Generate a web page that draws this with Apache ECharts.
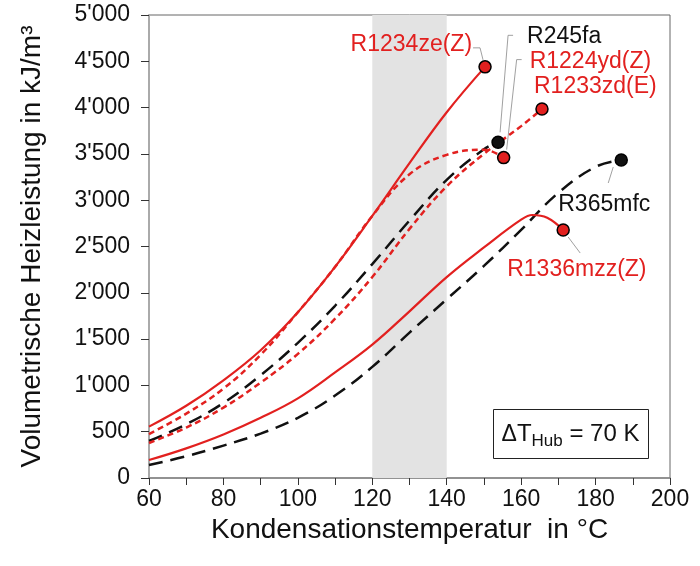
<!DOCTYPE html>
<html>
<head>
<meta charset="utf-8">
<script src="https://cdn.jsdelivr.net/npm/echarts@6/dist/echarts.min.js"></script>
<style>
  html, body { margin: 0; padding: 0; background: #fff; }
  #chart { width: 700px; height: 566px; }
</style>
</head>
<body>
<div id="chart"></div>
<script>
// values: [temperature °C, kJ/m3]
var r1234zeZ = [[60, 555], [70, 780], [80, 1055], [90, 1380], [100, 1790], [110, 2280], [120, 2830], [130, 3400], [140, 3950], [150.3, 4440]];
var r245fa = [[60, 400], [70, 580], [80, 810], [90, 1110], [100, 1460], [110, 1860], [120, 2310], [130, 2780], [140, 3220], [150, 3550], [153.8, 3625]];
var r1224ydZ = [[60, 475], [70, 695], [80, 965], [90, 1330], [100, 1790], [110, 2280], [120, 2830], [130, 3280], [140, 3490], [150, 3545], [155.3, 3460]];
var r1233zdE = [[60, 378], [70, 545], [80, 760], [90, 1030], [100, 1340], [110, 1720], [120, 2170], [130, 2690], [140, 3150], [150, 3500], [160, 3800], [165.6, 3985]];
var r365mfc = [[60, 140], [70, 235], [80, 350], [90, 480], [100, 650], [110, 890], [120, 1200], [130, 1570], [140, 1930], [150, 2290], [160, 2680], [170, 3080], [180, 3360], [186.9, 3434]];
var r1336mzzZ = [[60, 194], [70, 320], [80, 470], [90, 650], [100, 860], [110, 1140], [120, 1440], [130, 1800], [140, 2170], [150, 2490], [160, 2790], [163, 2840], [167, 2810], [171.3, 2678]];

var names = ['R1234ze(Z)', 'R245fa', 'R1224yd(Z)', 'R1233zd(E)', 'R365mfc', 'R1336mzz(Z)'];
var band = [120, 140];
var xTicks = [60, 200, 10];
var yTicks = [0, 5000, 500];
var boxText = ['Δ', 'T', 'Hub', ' = 70 K'];

var RED = '#e2201f';
var BLACK = '#111';
var FONT = '"Liberation Sans", Arial, sans-serif';

// style per curve
var styles = [
  { data: r1234zeZ, color: RED, type: 'solid', width: 2.2 },
  { data: r245fa, color: BLACK, type: [14, 8], width: 2.5 },
  { data: r1224ydZ, color: RED, type: [6, 4], width: 2.5 },
  { data: r1233zdE, color: RED, type: [6, 4], width: 2.5 },
  { data: r365mfc, color: BLACK, type: [14, 8], width: 2.5 },
  { data: r1336mzzZ, color: RED, type: 'solid', width: 2.2 }
];

// label placement (px from the end dot) and leader polyline (px from the end dot)
var labelPos = [
  { off: [-13, -22], align: 'right', lead: [[-12, -19], [-5, -19], [-2, -7]] },
  { off: [29, -106], align: 'left', lead: [[15, -107], [10, -107], [2, -10]] },
  { off: [26, -96], align: 'left', lead: [[18, -98], [13, -98], [3, -8]] },
  { off: [-8, -22], align: 'left', lead: null },
  { off: [-63, 45], align: 'left', lead: [[-8, 7], [-13, 23]] },
  { off: [-56, 40], align: 'left', lead: [[5, 7], [17, 23]] }
];

function fmtY(v) {
  if (v < 1000) return String(v);
  var r = String(v % 1000);
  while (r.length < 3) r = '0' + r;
  return Math.floor(v / 1000) + "'" + r;
}

var series = [];
styles.forEach(function (s, i) {
  var line = {
    name: names[i],
    type: 'line',
    data: s.data,
    smooth: 0.4,
    symbol: 'none',
    z: 3,
    lineStyle: { color: s.color, width: s.width, type: s.type, opacity: 1 },
    silent: true
  };
  if (i === 0) {
    line.markArea = {
      silent: true,
      itemStyle: { color: '#e3e3e3', opacity: 1 },
      data: [[{ xAxis: band[0] }, { xAxis: band[1] }]]
    };
  }
  series.push(line);
});
styles.forEach(function (s, i) {
  var lp = labelPos[i];
  series.push({
    type: 'scatter',
    data: [s.data[s.data.length - 1]],
    symbol: 'circle',
    symbolSize: 12,
    z: 5,
    silent: true,
    itemStyle: { color: s.color, borderColor: '#000', borderWidth: 1.5, opacity: 1 },
    label: {
      show: true,
      formatter: names[i],
      position: 'inside',
      offset: lp.off,
      align: lp.align,
      verticalAlign: 'middle',
      color: s.color,
      opacity: 1,
      fontFamily: FONT,
      fontSize: 23
    }
  });
});

var chart = echarts.init(document.getElementById('chart'), null, { renderer: 'canvas' });

var option = {
  animation: false,
  backgroundColor: '#fff',
  grid: {
    left: 149, right: 30, top: 15, bottom: 88,
    show: true, borderColor: '#666', borderWidth: 1, backgroundColor: 'transparent'
  },
  xAxis: {
    type: 'value',
    min: xTicks[0], max: xTicks[1], interval: xTicks[2],
    name: 'Kondensationstemperatur  in °C',
    nameLocation: 'middle',
    nameGap: 30,
    nameTextStyle: { fontFamily: FONT, fontSize: 28, color: '#111', verticalAlign: 'top' },
    axisLine: { show: true, lineStyle: { color: '#888', width: 1.5 } },
    axisTick: { show: true, inside: false, length: 7, lineStyle: { color: '#333' } },
    splitLine: { show: false },
    axisLabel: {
      margin: 10,
      fontFamily: FONT, fontSize: 23, color: '#111',
      formatter: function (v) { return v % 20 === 0 ? String(v) : ''; }
    }
  },
  yAxis: {
    type: 'value',
    min: yTicks[0], max: yTicks[1], interval: yTicks[2],
    name: 'Volumetrische Heizleistung in kJ/m³',
    nameLocation: 'middle',
    nameGap: 103,
    nameRotate: 90,
    nameTextStyle: { fontFamily: FONT, fontSize: 28, color: '#111' },
    axisLine: { show: true, lineStyle: { color: '#aaa', width: 2 } },
    axisTick: { show: true, inside: false, length: 8, lineStyle: { color: '#333' } },
    splitLine: { show: false },
    axisLabel: {
      margin: 19,
      fontFamily: FONT, fontSize: 23, color: '#111',
      formatter: fmtY
    }
  },
  series: series
};
chart.setOption(option);

// leader lines and the ΔT box
var graphics = [];
styles.forEach(function (s, i) {
  var lp = labelPos[i];
  if (!lp.lead) return;
  var end = s.data[s.data.length - 1];
  var p = chart.convertToPixel({ gridIndex: 0 }, end);
  graphics.push({
    type: 'polyline',
    silent: true,
    z: 4,
    shape: { points: lp.lead.map(function (d) { return [p[0] + d[0], p[1] + d[1]]; }) },
    style: { stroke: '#888', lineWidth: 0.8, fill: null }
  });
});
graphics.push({
  type: 'group',
  left: 493, top: 409,
  children: [
    { type: 'rect', shape: { x: 0, y: 0, width: 155, height: 49 }, style: { fill: '#fff', stroke: '#222', lineWidth: 1 } },
    {
      type: 'text',
      x: 77, y: 25,
      style: {
        text: '{d|' + boxText[0] + '}{t|' + boxText[1] + '}{s|' + boxText[2] + '}{n|' + boxText[3] + '}',
        align: 'center', verticalAlign: 'middle',
        rich: {
          d: { fontFamily: FONT, fontSize: 23, fill: '#111', lineHeight: 30 },
          t: { fontFamily: FONT, fontSize: 24, fill: '#111', lineHeight: 30 },
          s: { fontFamily: FONT, fontSize: 17, fill: '#111', lineHeight: 30, verticalAlign: 'bottom', padding: [14, 0, 0, 0] },
          n: { fontFamily: FONT, fontSize: 24, fill: '#111', lineHeight: 30 }
        }
      }
    }
  ]
});
chart.setOption({ graphic: graphics });
</script>
</body>
</html>
